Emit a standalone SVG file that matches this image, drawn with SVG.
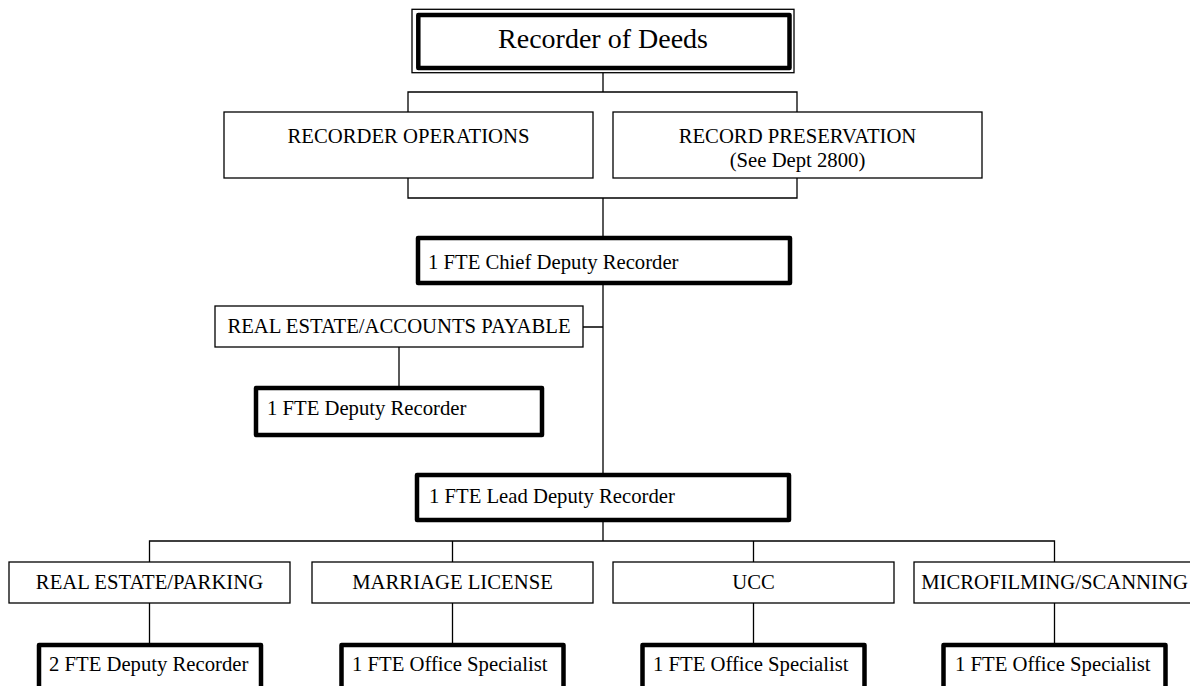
<svg xmlns="http://www.w3.org/2000/svg" width="1190" height="686" viewBox="0 0 1190 686">
<style>
  .bg { fill: #ffffff; }
  .box { fill: #ffffff; stroke: #000000; stroke-width: 1.3; }
  .thick { fill: #ffffff; stroke: #000000; stroke-width: 4.5; stroke-linejoin: round; }
  .conn { fill: none; stroke: #000000; stroke-width: 1.3; }
  text { font-family: "Liberation Serif", "Times New Roman", serif; font-size: 20.7px; fill: #000000; }
  .c { text-anchor: middle; }
  .title { font-size: 28px; }
</style>
<rect class="bg" x="0" y="0" width="1190" height="686"/>

<g id="connectors">
  <path class="conn" d="M603,72.7 V92 M408,112 V92 H797 V112"/>
  <path class="conn" d="M408,178 V198 H797 V178 M603,198 V238"/>
  <path class="conn" d="M603,283 V475 M583,327 H603"/>
  <path class="conn" d="M399,347 V388"/>
  <path class="conn" d="M603,520 V541 M149.5,562 V541 H1054.5 V562 M452.5,541 V562 M753.5,541 V562"/>
  <path class="conn" d="M149.5,603 V645 M452.5,603 V645 M753.5,603 V645 M1054.5,603 V645"/>
</g>

<g id="recorder-of-deeds">
  <rect class="box" x="412" y="9.3" width="382" height="63.4"/>
  <rect class="thick" x="418.3" y="15" width="371.2" height="53"/>
  <text class="c title" x="603" y="48">Recorder of Deeds</text>
</g>

<g id="recorder-operations">
  <rect class="box" x="224" y="112" width="369" height="66"/>
  <text class="c" x="408.5" y="143">RECORDER OPERATIONS</text>
</g>

<g id="record-preservation">
  <rect class="box" x="613" y="112" width="369" height="66"/>
  <text class="c" x="797.5" y="143">RECORD PRESERVATION</text>
  <text class="c" x="797.5" y="167">(See Dept 2800)</text>
</g>

<g id="chief-deputy">
  <rect class="thick" x="418" y="238" width="372" height="45"/>
  <text x="428" y="269">1 FTE Chief Deputy Recorder</text>
</g>

<g id="real-estate-accounts">
  <rect class="box" x="215" y="306" width="368" height="41"/>
  <text class="c" x="399" y="333">REAL ESTATE/ACCOUNTS PAYABLE</text>
</g>

<g id="deputy-recorder">
  <rect class="thick" x="256" y="388" width="286" height="47"/>
  <text x="267" y="415">1 FTE Deputy Recorder</text>
</g>

<g id="lead-deputy">
  <rect class="thick" x="417" y="475" width="372" height="45"/>
  <text x="429" y="503">1 FTE Lead Deputy Recorder</text>
</g>

<g id="real-estate-parking">
  <rect class="box" x="9" y="562" width="281" height="41"/>
  <text class="c" x="149.5" y="589">REAL ESTATE/PARKING</text>
</g>

<g id="marriage-license">
  <rect class="box" x="312" y="562" width="281" height="41"/>
  <text class="c" x="452.5" y="589">MARRIAGE LICENSE</text>
</g>

<g id="ucc">
  <rect class="box" x="613" y="562" width="281" height="41"/>
  <text class="c" x="753.5" y="589">UCC</text>
</g>

<g id="microfilming">
  <rect class="box" x="914" y="562" width="281" height="41"/>
  <text class="c" x="1054.5" y="589">MICROFILMING/SCANNING</text>
</g>

<g id="staff-real-estate">
  <rect class="thick" x="39" y="645" width="222" height="60"/>
  <text x="49" y="671">2 FTE Deputy Recorder</text>
</g>

<g id="staff-marriage">
  <rect class="thick" x="341.5" y="645" width="222" height="60"/>
  <text x="352" y="671">1 FTE Office Specialist</text>
</g>

<g id="staff-ucc">
  <rect class="thick" x="642.5" y="645" width="222" height="60"/>
  <text x="653" y="671">1 FTE Office Specialist</text>
</g>

<g id="staff-microfilming">
  <rect class="thick" x="943.5" y="645" width="222" height="60"/>
  <text x="955" y="671">1 FTE Office Specialist</text>
</g>
</svg>
